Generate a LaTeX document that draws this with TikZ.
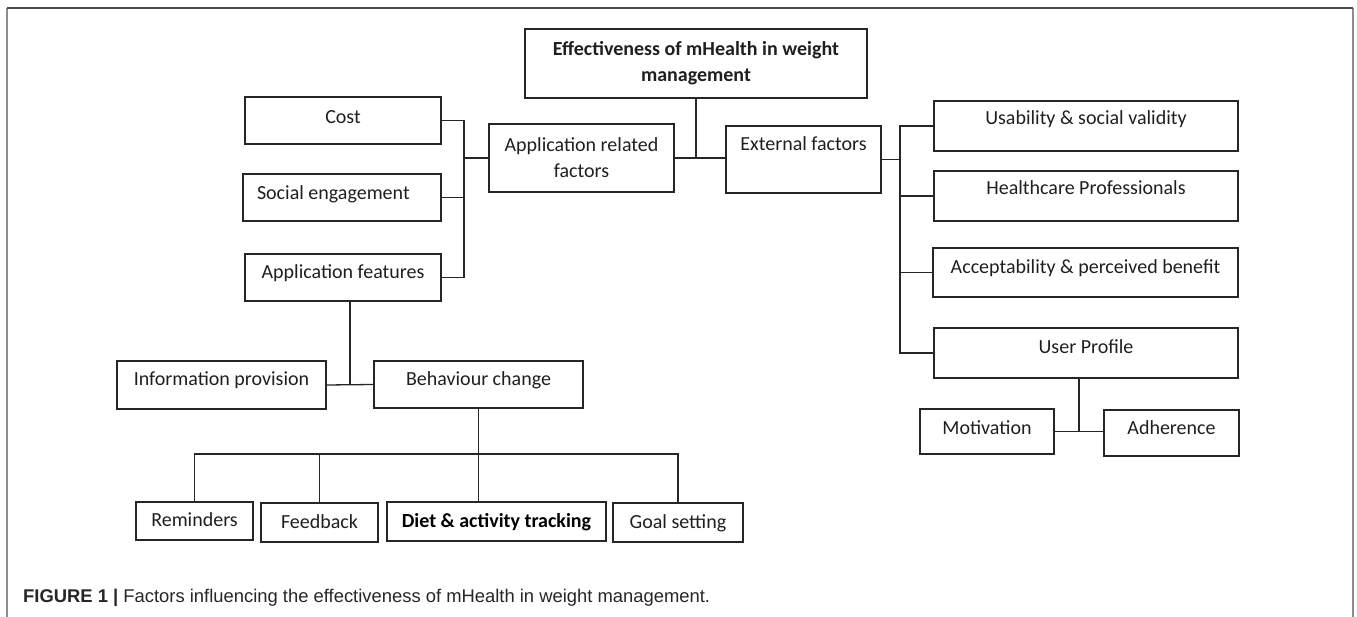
\documentclass[tikz,border=0pt]{standalone}
\usepackage{fontspec}
\setmainfont{Carlito}
\newfontfamily\capfont{Liberation Sans}
\usetikzlibrary{calc}
\definecolor{linec}{HTML}{262626}
\definecolor{framec}{HTML}{8C8C8C}
\begin{document}
\begin{tikzpicture}[x=1pt,y=-1pt,
  boxbase/.style={draw=linec, line width=1.3pt, inner sep=0pt,
    font=\fontsize{20}{26}\selectfont, text=black!88},
  box/.style={boxbase, text height=13.5pt, text depth=#1},
  box/.default=4pt,
  wire/.style={draw=linec, line width=1.3pt},
  capstyle/.style={anchor=base west, inner sep=0pt, text=black!85,
    font=\capfont\fontsize{18.4}{20}\selectfont}
]
\useasboundingbox (0,0) rectangle (1357,617);
% frame
\draw[framec, line width=1.5pt] (7,617) -- (7,8);
\draw[framec, line width=1.5pt] (1353,8) -- (1353,617);
\draw[black!70, line width=1.2pt] (7,8) -- (1353,8);

% nodes
\node[boxbase, align=center, minimum width=342pt, minimum height=69pt,
  font=\bfseries\fontsize{20}{26}\selectfont] (top) at (696,63.5)
  {Effectiveness of mHealth in weight\\management};
\node[box=8pt, minimum width=196pt, minimum height=47pt] (cost) at (343,120.5) {Cost};
\node[box=10pt, minimum width=198pt, minimum height=47pt] (social) at (342,197.5) {\makebox[170pt][l]{Social engagement}};
\node[box=11pt, minimum width=196pt, minimum height=47pt] (appfeat) at (343,277.5) {Application features};
\node[boxbase, align=center, minimum width=185pt, minimum height=68pt] (apprel) at (581.5,158) {Application related\\factors};
\node[box=31pt, minimum width=155pt, minimum height=67pt] (ext) at (803.5,159.5) {External factors};
\node[box=16pt, minimum width=304pt, minimum height=50pt] (usab) at (1086,126) {Usability \& social validity};
\node[box=16pt, minimum width=304pt, minimum height=50pt] (health) at (1086,196) {Healthcare Professionals};
\node[box=12pt, minimum width=305pt, minimum height=49pt] (accept) at (1085.5,272.5) {Acceptability \& perceived benefit};
\node[box=12pt, minimum width=304pt, minimum height=50pt] (user) at (1086,353) {User Profile};
\node[box=8pt, minimum width=134pt, minimum height=45pt] (motiv) at (987,431.5) {Motivation};
\node[box=10pt, minimum width=135pt, minimum height=46pt] (adher) at (1171.5,433) {Adherence};
\node[box=12pt, minimum width=209pt, minimum height=48pt] (info) at (221.5,385) {Information provision};
\node[box=11pt, minimum width=209pt, minimum height=47pt] (behav) at (478.5,384.5) {Behaviour change};
\node[box=2pt, minimum width=117pt, minimum height=38pt] (remind) at (194.5,521) {Reminders};
\node[box=2pt, minimum width=117pt, minimum height=39pt] (feedb) at (319.5,522.5) {Feedback};
\node[box=2pt, minimum width=219pt, minimum height=39pt, font=\bfseries\fontsize{20}{26}\selectfont, text=black] (diet) at (496.5,521.5) {Diet \& activity tracking};
\node[box=2pt, minimum width=130pt, minimum height=39pt] (goal) at (678,522.5) {Goal setting};

% caption
\node[capstyle] (cap) at (23,602) {\textbf{FIGURE 1 |} Factors influencing the effectiveness of mHealth in weight management.};

% helper coordinates
\coordinate (lbus) at (464,0);
\coordinate (rbus) at (900,0);
\coordinate (bbus) at (0,454);
\coordinate (ib) at ($(info.east)!0.5!(behav.west)$);
\coordinate (ma) at ($(motiv.east)!0.5!(adher.west)$);

% connectors: application side
\draw[wire] (cost.east) -- (lbus |- cost.east) -- (lbus |- appfeat.east) -- (appfeat.east);
\draw[wire] (social.east) -- (lbus |- social.east);
\draw[wire] (apprel.west) -- (lbus |- apprel.west);
% top
\draw[wire] (top.south) -- (top.south |- apprel.east);
\draw[wire] (apprel.east) -- (apprel.east -| ext.west);
% external side
\draw[wire] (ext.east) -- (rbus |- ext.east);
\draw[wire] (usab.west) -- (rbus |- usab.west) -- (rbus |- user.west) -- (user.west);
\draw[wire] (health.west) -- (rbus |- health.west);
\draw[wire] (accept.west) -- (rbus |- accept.west);
% user profile
\draw[wire] (motiv.east) -- (motiv.east -| adher.west);
\draw[wire] (ma) -- (ma |- user.south);
% application features
\draw[wire] (info.east) -- (behav.west);
\draw[wire] (ib) -- (ib |- appfeat.south);
% behaviour change
\draw[wire] (behav.south) -- (behav.south |- diet.north);
\draw[wire] (remind.north) -- (remind.north |- bbus) -- (goal.north |- bbus) -- (goal.north);
\draw[wire] (feedb.north) -- (feedb.north |- bbus);
\end{tikzpicture}
\end{document}
